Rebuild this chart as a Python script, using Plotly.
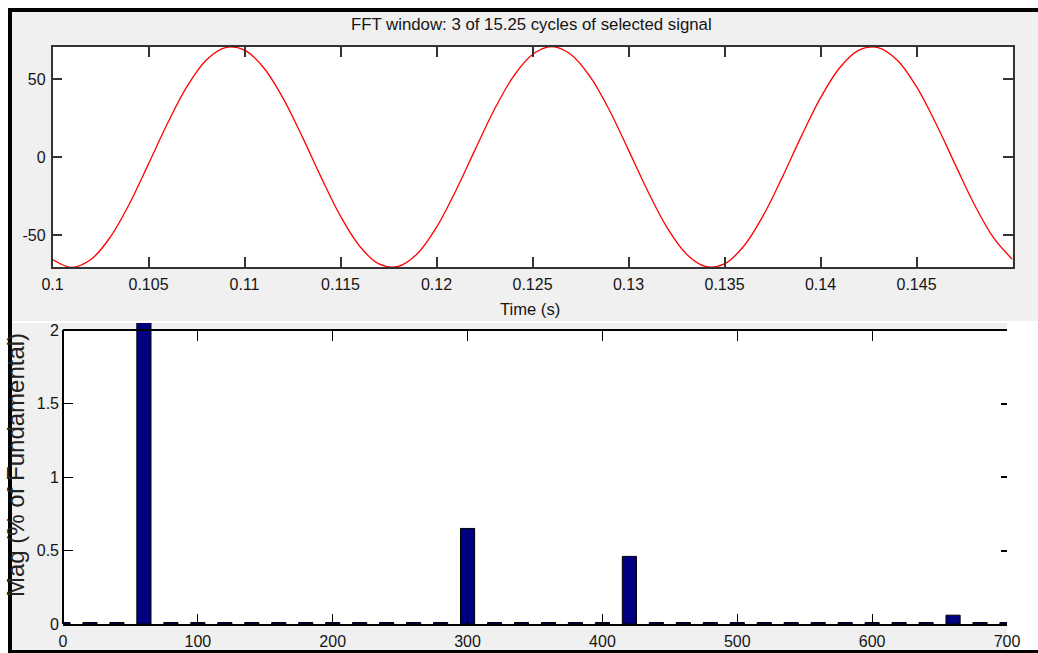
import numpy as np
import plotly.graph_objects as go

# ---------------- data ----------------
# Top panel: selected signal, sampled every 1 ms from 0.100 s to 0.150 s
time_s = np.round(np.arange(0.100, 0.1505, 0.001), 3)
signal = [-65.7, -70.7, -65.7, -51.5, -30.1, -4.4, 21.8, 45.1, 62.0, 70.1,
          68.5, 57.2, 37.9, 13.2, -13.2, -37.9, -57.2, -68.5, -70.1, -62.0,
          -45.1, -21.8, 4.4, 30.1, 51.5, 65.7, 70.7, 65.7, 51.5, 30.1,
          4.4, -21.8, -45.1, -62.0, -70.1, -68.5, -57.2, -37.9, -13.2, 13.2,
          37.9, 57.2, 68.5, 70.1, 62.0, 45.1, 21.8, -4.4, -30.1, -51.5,
          -65.7]
time_tickvals = [0.1, 0.105, 0.11, 0.115, 0.12, 0.125, 0.13, 0.135, 0.14, 0.145]
time_ticktext = ["0.1", "0.105", "0.11", "0.115", "0.12", "0.125", "0.13",
                 "0.135", "0.14", "0.145"]
sig_tickvals = [-50, 0, 50]
sig_ticktext = ["-50", "0", "50"]

# Bottom panel: harmonic spectrum (% of fundamental), 20 Hz bins
freq_hz = list(range(0, 701, 20))
mag_pct = [0.01, 0.01, 0.01, 100.0, 0.01, 0.01, 0.01, 0.01, 0.01, 0.01,
           0.01, 0.01, 0.01, 0.01, 0.01, 0.65, 0.01, 0.01, 0.01, 0.01,
           0.01, 0.46, 0.01, 0.01, 0.01, 0.01, 0.01, 0.01, 0.01, 0.01,
           0.01, 0.01, 0.01, 0.06, 0.01, 0.01]
freq_tickvals = [0, 100, 200, 300, 400, 500, 600, 700]
freq_ticktext = ["0", "100", "200", "300", "400", "500", "600", "700"]
mag_tickvals = [0, 0.5, 1, 1.5, 2]
mag_ticktext = ["0", "0.5", "1", "1.5", "2"]

title_text = "FFT window: 3 of 15.25 cycles of selected signal"
xlabel_text = "Time (s)"
ylabel_text = "Mag (% of Fundamental)"

# ---------------- layout helpers ----------------
W, H = 1038, 653
def PX(px):
    return px / W
def PY(py):
    return 1 - py / H

FONT = "Liberation Sans, Arial, sans-serif"
TXT = "#151515"
FRAME = "#333333"

mag_top = 2 * (624 - 323) / (624 - 330)

fig = go.Figure()

fig.add_trace(go.Scatter(x=time_s, y=signal, mode="lines",
                         line=dict(color="#ff0000", width=1.3, shape="spline"),
                         xaxis="x", yaxis="y", hoverinfo="skip"))

fig.add_trace(go.Bar(x=freq_hz, y=mag_pct, width=10.5,
                     marker=dict(color="#000080", line=dict(color="black", width=1)),
                     xaxis="x2", yaxis="y2", hoverinfo="skip"))

# invisible trace to bring the mirror axes (top ticks / right ticks) to life
fig.add_trace(go.Scatter(x=freq_hz, y=mag_pct, mode="none",
                         xaxis="x3", yaxis="y3", hoverinfo="skip"))

tickfont = dict(family=FONT, size=16, color=TXT)

fig.update_layout(
    width=W, height=H, autosize=False,
    margin=dict(l=0, r=0, t=0, b=0, pad=0, autoexpand=False),
    paper_bgcolor="white", plot_bgcolor="rgba(0,0,0,0)",
    showlegend=False,
    xaxis=dict(domain=[PX(52.5), PX(1012.5)], range=[0.1, 0.15], anchor="y",
               showline=True, mirror="ticks", linecolor=FRAME, linewidth=1.5,
               ticks="inside", ticklen=10, tickcolor=FRAME, tickwidth=1.5,
               tickvals=time_tickvals, ticktext=time_ticktext,
               tickfont=tickfont, ticklabelstandoff=2,
               showgrid=False, zeroline=False, automargin=False),
    yaxis=dict(domain=[PY(267), PY(47)], range=[-70.5, 70.5], anchor="x",
               showline=True, mirror="ticks", linecolor=FRAME, linewidth=1.5,
               ticks="inside", ticklen=10, tickcolor=FRAME, tickwidth=1.5,
               tickvals=sig_tickvals, ticktext=sig_ticktext,
               tickfont=tickfont, ticklabelstandoff=2,
               showgrid=False, zeroline=False, automargin=False),
    xaxis2=dict(domain=[PX(63), PX(1007)], range=[0, 700], anchor="y2",
                showline=True, linecolor="black", linewidth=2,
                ticks="inside", ticklen=10, tickcolor="black", tickwidth=1,
                tickvals=freq_tickvals, ticktext=freq_ticktext,
                tickfont=tickfont, ticklabelstandoff=2,
                showgrid=False, zeroline=False, automargin=False),
    yaxis2=dict(domain=[PY(624), PY(323)], range=[0, mag_top], anchor="x2",
                showline=False,
                ticks="inside", ticklen=10, tickcolor="black", tickwidth=1,
                tickvals=mag_tickvals, ticktext=mag_ticktext,
                tickfont=tickfont, ticklabelstandoff=3,
                showgrid=False, zeroline=False, automargin=False),
    xaxis3=dict(overlaying="x2", anchor="free", position=PY(330), side="top",
                range=[0, 700], showline=True, linecolor="black", linewidth=2,
                ticks="inside", ticklen=10, tickcolor="black", tickwidth=1,
                tickvals=freq_tickvals, showticklabels=False,
                showgrid=False, zeroline=False, automargin=False),
    yaxis3=dict(overlaying="y2", anchor="free", position=PX(1007), side="right",
                range=[0, mag_top], showline=False,
                ticks="inside", ticklen=6, tickcolor="black", tickwidth=1.5,
                tickvals=mag_tickvals, showticklabels=False,
                showgrid=False, zeroline=False, automargin=False),
)

shapes = [
    # panel backgrounds
    dict(type="rect", xref="paper", yref="paper", x0=PX(12), x1=PX(1038),
         y0=PY(321), y1=PY(12), fillcolor="#f0f0f0", line_width=0, layer="below"),
    dict(type="rect", xref="paper", yref="paper", x0=PX(12), x1=PX(1007),
         y0=PY(650), y1=PY(323), fillcolor="#f0f0f0", line_width=0, layer="below"),
    # plot areas
    dict(type="rect", xref="x domain", yref="y domain", x0=0, x1=1, y0=0, y1=1,
         fillcolor="white", line_width=0, layer="below"),
    dict(type="rect", xref="x2 domain", yref="y2", x0=0, x1=1, y0=0, y1=2,
         fillcolor="white", line_width=0, layer="below"),
    # left spine of lower axes (from 0 to 2 only)
    dict(type="line", xref="x2 domain", yref="y2", x0=0, x1=0, y0=0, y1=2,
         line=dict(color="black", width=2), layer="above"),
    # window borders
    dict(type="rect", xref="paper", yref="paper", x0=PX(8), x1=PX(12),
         y0=0, y1=PY(8), fillcolor="black", line_width=0, layer="above"),
    dict(type="rect", xref="paper", yref="paper", x0=PX(8), x1=1,
         y0=PY(12), y1=PY(8), fillcolor="black", line_width=0, layer="above"),
    dict(type="rect", xref="paper", yref="paper", x0=PX(8), x1=1,
         y0=0, y1=PY(650), fillcolor="black", line_width=0, layer="above"),
]
fig.update_layout(shapes=shapes)

fig.update_layout(annotations=[
    dict(text=title_text, xref="paper", yref="paper", x=PX(531), y=PY(25),
         xanchor="center", yanchor="middle", showarrow=False,
         font=dict(family=FONT, size=16.8, color=TXT)),
    dict(text=xlabel_text, xref="paper", yref="paper", x=PX(530), y=PY(310),
         xanchor="center", yanchor="middle", showarrow=False,
         font=dict(family=FONT, size=16.6, color=TXT)),
    dict(text=ylabel_text, xref="paper", yref="paper", x=PX(15), y=PY(465),
         xanchor="center", yanchor="middle", showarrow=False, textangle=-90,
         font=dict(family=FONT, size=24, color="#222222")),
])

fig.write_html("out.html")
